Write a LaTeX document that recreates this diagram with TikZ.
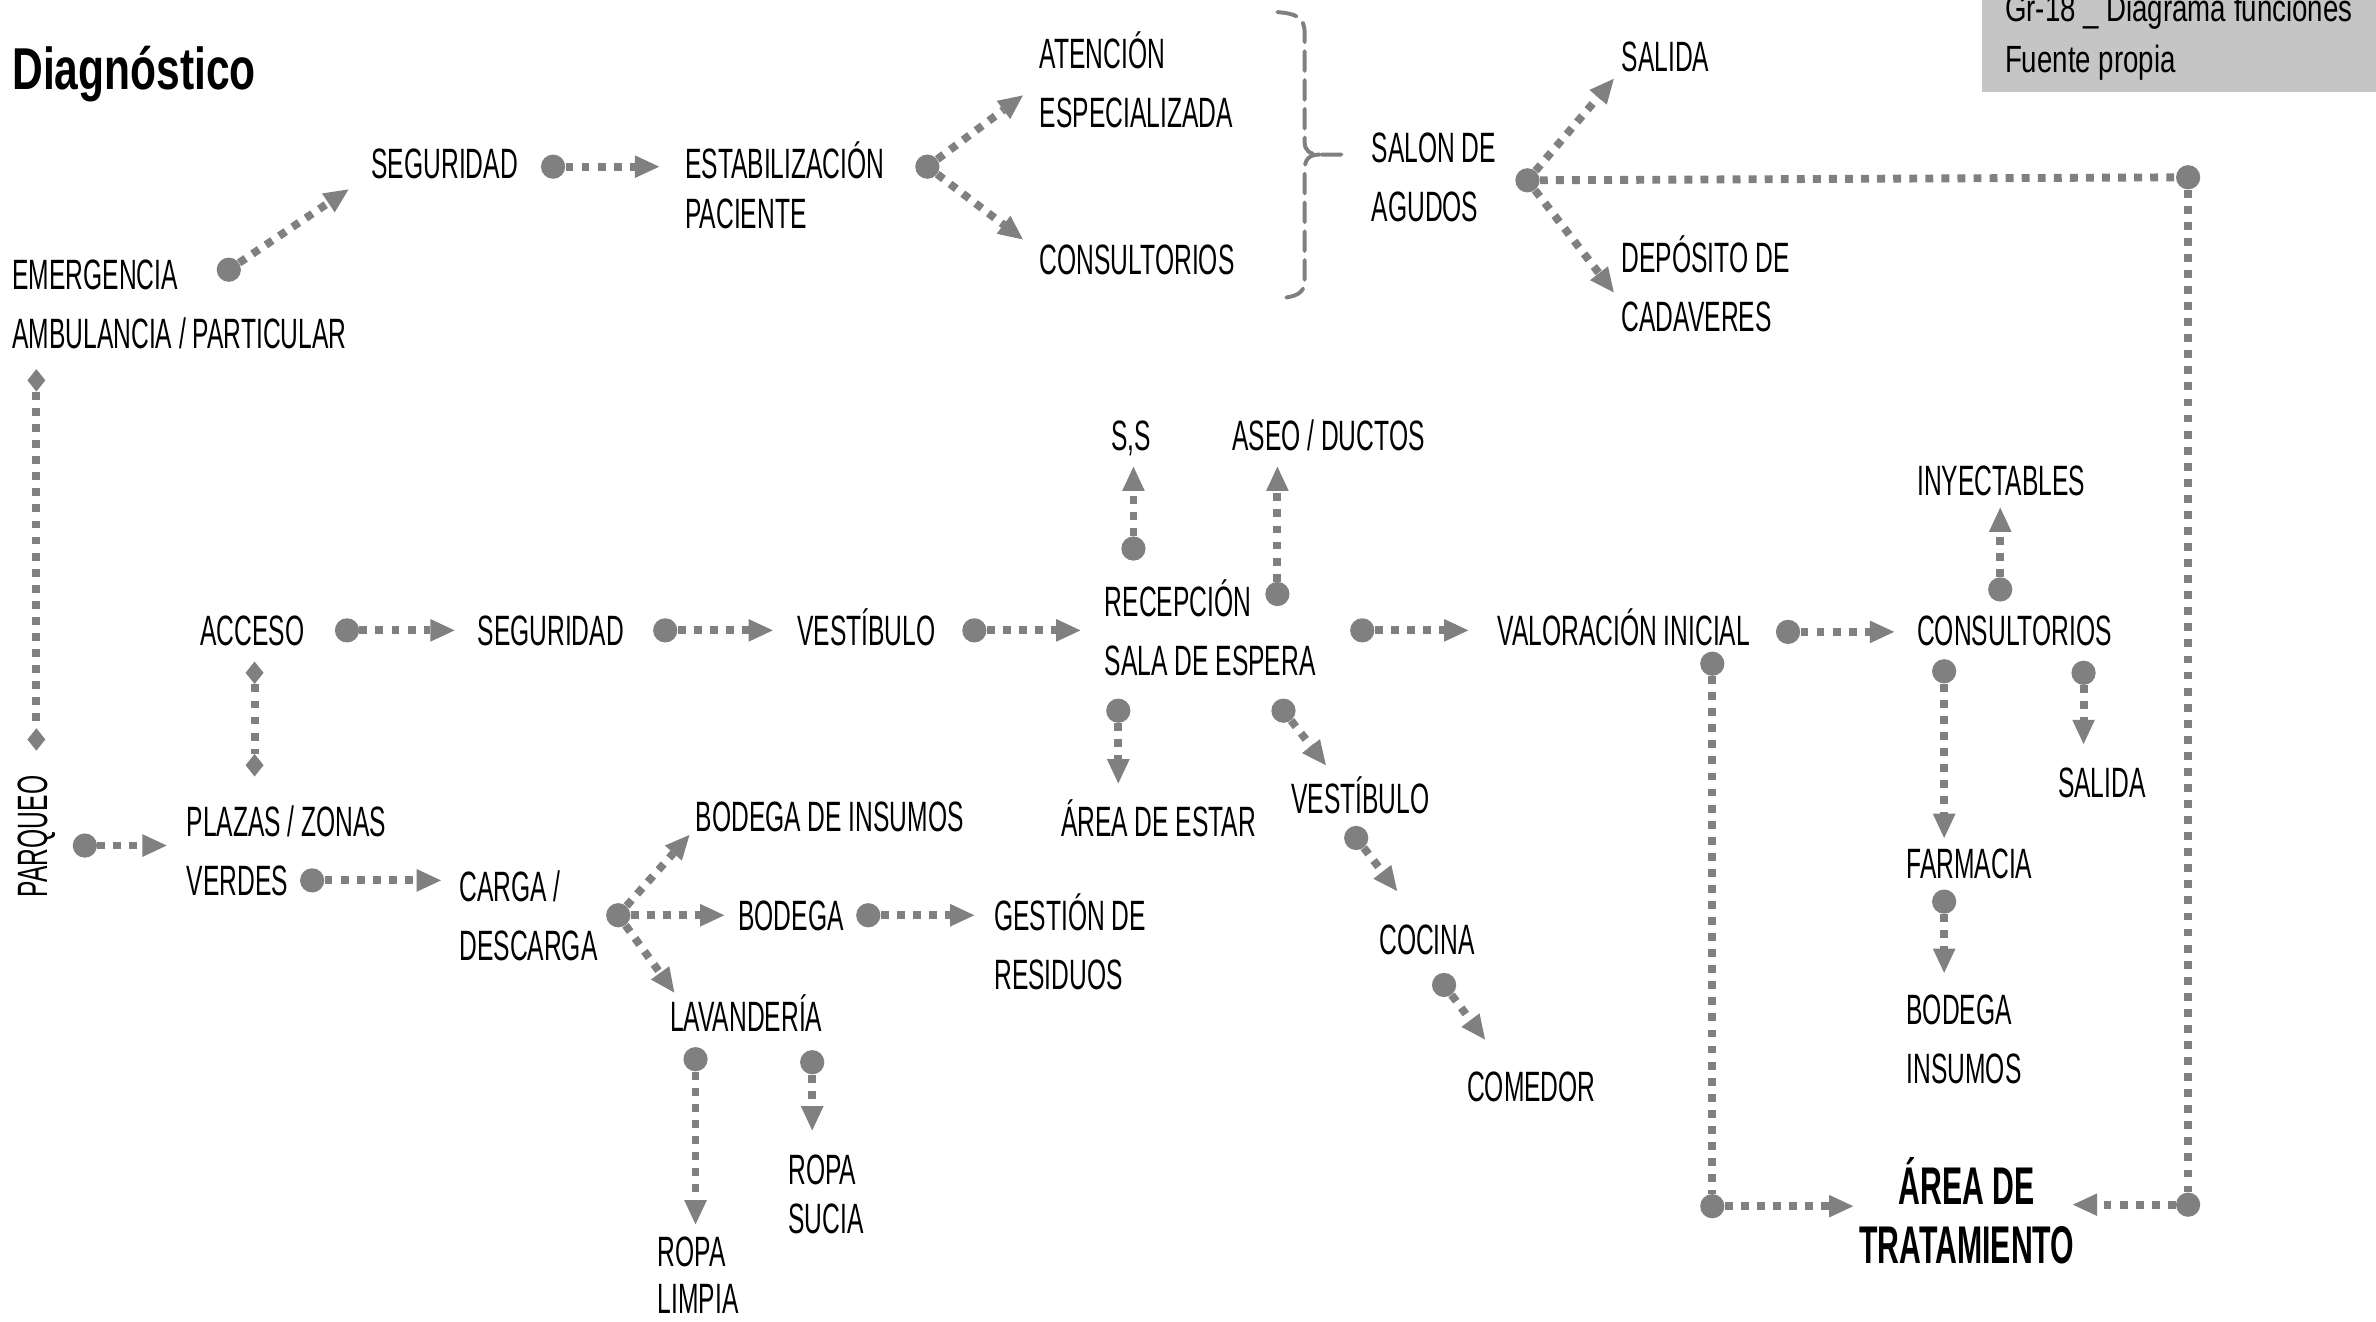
\documentclass[tikz,border=0pt]{standalone}
\usepackage{fontspec}
\setmainfont[FakeStretch=0.58]{Liberation Sans}
\newfontfamily\titlefont[FakeStretch=0.72]{Liberation Sans}
\newfontfamily\boldnarrow[FakeStretch=0.57]{Liberation Sans}
\newfontfamily\notefont[FakeStretch=0.73]{Liberation Sans}
\usetikzlibrary{arrows.meta,shapes.geometric}

\definecolor{flow}{RGB}{128,128,128}
\definecolor{notebg}{RGB}{197,197,197}

% two-line labels: left aligned / centred, first baseline is the node base
\newcommand\ltwo[3]{\vtop{\baselineskip=#1pt\lineskiplimit=-100pt\hbox{#2}\hbox{#3}}}
\newcommand\ctwo[3]{\vtop{\baselineskip=#1pt\lineskiplimit=-100pt\halign{\hfil##\hfil\cr#2\cr#3\cr}}}

\tikzset{
  lbl/.style={anchor=base west, inner sep=0pt, font=\fontsize{28}{39}\selectfont},
  hub/.style={circle, fill=flow, minimum size=16pt, inner sep=0pt},
  gem/.style={diamond, fill=flow, minimum width=12pt, minimum height=15pt, inner sep=0pt},
  dotlink/.style={draw=flow, line width=5.2pt, dash pattern=on 5.2pt off 5.4pt},
  flowarrow/.style={dotlink, -{Triangle[length=16pt,width=15pt,line width=0pt]}},
  bracket/.style={draw=flow, line width=2.6pt, dash pattern=on 13pt off 6pt, line cap=round},
}

\begin{document}
\begin{tikzpicture}[x=1pt,y=-1pt]
\useasboundingbox (0,0) rectangle (1568,872);

% title and source note
\node[anchor=base west, inner sep=0pt, font=\titlefont\bfseries\fontsize{39}{45}\selectfont] (title) at (8,59) {Diagnóstico};
\fill[notebg] (1308,0) rectangle (1568,61);
\node[anchor=base west, inner sep=0pt, font=\notefont\fontsize{25}{30}\selectfont] (note1) at (1323,14) {Gr-18 \_ Diagrama funciones};
\node[anchor=base west, inner sep=0pt, font=\notefont\fontsize{25}{30}\selectfont] (note2) at (1323,48) {Fuente propia};

% ---------- upper branch: emergency ----------
\node[lbl] (emerg) at (8,191) {\ltwo{39}{EMERGENCIA}{AMBULANCIA / PARTICULAR}};
\node[lbl] (seg1) at (245,118) {SEGURIDAD};
\node[lbl] (estab) at (452,118) {\ltwo{33}{ESTABILIZACIÓN}{PACIENTE}};
\node[lbl] (atenc) at (686,45) {\ltwo{39}{ATENCIÓN}{ESPECIALIZADA}};
\node[lbl] (cons1) at (686,181) {CONSULTORIOS};
\node[lbl] (salon) at (905,107) {\ltwo{39}{SALON DE}{AGUDOS}};
\node[lbl] (sal1) at (1070,47) {SALIDA};
\node[lbl] (depos) at (1070,180) {\ltwo{39}{DEPÓSITO DE}{CADAVERES}};

\node[hub] (d-emerg) at (151,178) {};
\node[hub] (d-seg1) at (365,110) {};
\node[hub] (d-estab) at (612,110) {};
\node[hub] (d-salon) at (1008,119) {};
\node[hub] (d-corner) at (1444,117) {};

\coordinate (t-seg1) at (230,125);
\coordinate (t-estab) at (435,110);
\coordinate (t-atenc) at (675,63);
\coordinate (t-cons1) at (675,158);
\coordinate (t-sal1) at (1065,52);
\coordinate (t-depos) at (1065,193);

\draw[flowarrow] (d-emerg) -- (t-seg1);
\draw[flowarrow] (d-seg1) -- (t-estab);
\draw[flowarrow] (d-estab) -- (t-atenc);
\draw[flowarrow] (d-estab) -- (t-cons1);
\draw[flowarrow] (d-salon) -- (t-sal1);
\draw[flowarrow] (d-salon) -- (t-depos);
\draw[dotlink] (d-salon) -- (d-corner);

% brace grouping the two services into the acute ward
\coordinate (br-top) at (843,8);
\coordinate (br-tip) at (888,102);
\coordinate (br-bot) at (843,197);
\draw[bracket] (br-top) .. controls (855,9) and (861,11) .. (861,22) -- (861,94)
  .. controls (861,99) and (864,102) .. (871,102) -- (br-tip);
\draw[bracket] (871,102) .. controls (864,102) and (861,105) .. (861,112) -- (861,185)
  .. controls (861,194) and (855,196) .. (br-bot);

% ---------- parking and access ----------
\node[gem] (g-emerg) at (24,251) {};
\node[gem] (g-parq) at (24,488) {};
\draw[dotlink] (g-emerg) -- (g-parq);
\node[rotate=90, inner sep=0pt, font=\fontsize{28}{39}\selectfont] (parq) at (24,552) {PARQUEO};
\node[hub] (d-parq) at (56,558) {};
\coordinate (t-plazas) at (110,558);
\draw[flowarrow] (d-parq) -- (t-plazas);

\node[lbl] (acceso) at (132,426) {ACCESO};
\node[lbl] (seg2) at (315,426) {SEGURIDAD};
\node[lbl] (vest1) at (526,426) {VESTÍBULO};
\node[lbl] (recep) at (729,407) {\ltwo{39}{RECEPCIÓN}{SALA DE ESPERA}};
\node[lbl] (ss) at (733,297) {S,S};
\node[lbl] (aseo) at (813,297) {ASEO / DUCTOS};
\node[lbl] (estar) at (700,552) {ÁREA DE ESTAR};
\node[lbl] (vest2) at (852,537) {VESTÍBULO};
\node[lbl] (cocina) at (910,630) {COCINA};
\node[lbl] (comedor) at (968,727) {COMEDOR};
\node[lbl] (valor) at (988,426) {VALORACIÓN INICIAL};
\node[lbl] (cons2) at (1265,426) {CONSULTORIOS};
\node[lbl] (inyec) at (1265,327) {INYECTABLES};
\node[lbl] (sal2) at (1358,526) {SALIDA};
\node[lbl] (farm) at (1258,580) {FARMACIA};
\node[lbl] (bodins) at (1258,676) {\ltwo{39}{BODEGA}{INSUMOS}};
\node[anchor=base, inner sep=0pt, font=\boldnarrow\bfseries\fontsize{35}{39}\selectfont] (trat) at (1298,795) {\ctwo{39}{ÁREA DE}{TRATAMIENTO}};

\node[hub] (d-acc) at (229,416) {};
\node[hub] (d-seg2) at (439,416) {};
\node[hub] (d-vest1) at (643,416) {};
\node[hub] (d-ss) at (748,362) {};
\node[hub] (d-aseo) at (843,392) {};
\node[hub] (d-estar) at (738,469) {};
\node[hub] (d-vest2a) at (847,469) {};
\node[hub] (d-vest2b) at (895,553) {};
\node[hub] (d-coc) at (953,650) {};
\node[hub] (d-recep) at (899,416) {};
\node[hub] (d-valor) at (1180,417) {};
\node[hub] (d-valdown) at (1130,438) {};
\node[hub] (d-bl) at (1130,796) {};
\node[hub] (d-br) at (1444,795) {};
\node[hub] (d-iny) at (1320,389) {};
\node[hub] (d-farm) at (1283,443) {};
\node[hub] (d-sal2) at (1375,444) {};
\node[hub] (d-bod) at (1283,595) {};

\coordinate (t-seg2) at (300,416);
\coordinate (t-vest1) at (510,416);
\coordinate (t-recep) at (713,416);
\coordinate (t-ss) at (748,308);
\coordinate (t-aseo) at (843,308);
\coordinate (t-estar) at (738,517);
\coordinate (t-vest2) at (875,505);
\coordinate (t-coc) at (922,588);
\coordinate (t-com) at (980,686);
\coordinate (t-valor) at (969,416);
\coordinate (t-cons2) at (1250,417);
\coordinate (t-iny) at (1320,335);
\coordinate (t-farm) at (1283,553);
\coordinate (t-sal2) at (1375,491);
\coordinate (t-bod) at (1283,642);
\coordinate (t-trat-l) at (1223,796);
\coordinate (t-trat-r) at (1368,795);

\draw[flowarrow] (d-acc) -- (t-seg2);
\draw[flowarrow] (d-seg2) -- (t-vest1);
\draw[flowarrow] (d-vest1) -- (t-recep);
\draw[flowarrow] (d-ss) -- (t-ss);
\draw[flowarrow] (d-aseo) -- (t-aseo);
\draw[flowarrow] (d-estar) -- (t-estar);
\draw[flowarrow] (d-vest2a) -- (t-vest2);
\draw[flowarrow] (d-vest2b) -- (t-coc);
\draw[flowarrow] (d-coc) -- (t-com);
\draw[flowarrow] (d-recep) -- (t-valor);
\draw[flowarrow] (d-valor) -- (t-cons2);
\draw[flowarrow] (d-iny) -- (t-iny);
\draw[flowarrow] (d-farm) -- (t-farm);
\draw[flowarrow] (d-sal2) -- (t-sal2);
\draw[flowarrow] (d-bod) -- (t-bod);
\draw[dotlink] (d-valdown) -- (d-bl);
\draw[flowarrow] (d-bl) -- (t-trat-l);
\draw[dotlink] (d-corner) -- (d-br);
\draw[flowarrow] (d-br) -- (t-trat-r);

% ---------- service branch ----------
\node[gem] (g-acc) at (168,444) {};
\node[gem] (g-plazas) at (168,505) {};
\draw[dotlink] (g-acc) -- (g-plazas);

\node[lbl] (plazas) at (123,552) {\ltwo{39}{PLAZAS / ZONAS}{VERDES}};
\node[lbl] (carga) at (303,595) {\ltwo{39}{CARGA /}{DESCARGA}};
\node[lbl] (bodins2) at (459,549) {BODEGA DE INSUMOS};
\node[lbl] (bodega) at (487,614) {BODEGA};
\node[lbl] (gestion) at (656,614) {\ltwo{39}{GESTIÓN DE}{RESIDUOS}};
\node[lbl] (lavand) at (442,681) {LAVANDERÍA};
\node[lbl] (limpia) at (434,836) {\ltwo{31}{ROPA}{LIMPIA}};
\node[lbl] (sucia) at (520,782) {\ltwo{32}{ROPA}{SUCIA}};

\node[hub] (d-verdes) at (206,581) {};
\node[hub] (d-carga) at (408,604) {};
\node[hub] (d-bodega) at (573,604) {};
\node[hub] (d-lav1) at (459,699) {};
\node[hub] (d-lav2) at (536,701) {};

\coordinate (t-carga) at (291,581);
\coordinate (t-bodins2) at (455,551);
\coordinate (t-bodega) at (478,604);
\coordinate (t-lavand) at (445,655);
\coordinate (t-gestion) at (643,604);
\coordinate (t-limpia) at (459,808);
\coordinate (t-sucia) at (536,746);

\draw[flowarrow] (d-verdes) -- (t-carga);
\draw[flowarrow] (d-carga) -- (t-bodins2);
\draw[flowarrow] (d-carga) -- (t-bodega);
\draw[flowarrow] (d-carga) -- (t-lavand);
\draw[flowarrow] (d-bodega) -- (t-gestion);
\draw[flowarrow] (d-lav1) -- (t-limpia);
\draw[flowarrow] (d-lav2) -- (t-sucia);
\end{tikzpicture}
\end{document}
